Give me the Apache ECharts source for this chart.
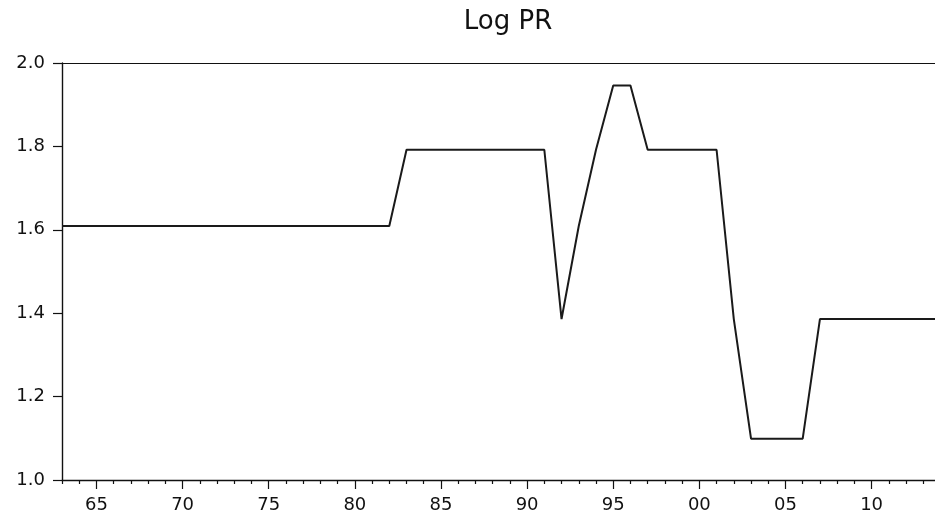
<!DOCTYPE html>
<html>
<head>
<meta charset="utf-8">
<script src="https://cdn.jsdelivr.net/npm/echarts@6/dist/echarts.min.js"></script>
<style>
html,body{margin:0;padding:0;background:#fff;}
#chart{width:935px;height:515px;}
</style>
</head>
<body>
<div id="chart"></div>
<script>
// Data: annual series, log of PR
const years = [1963,1964,1965,1966,1967,1968,1969,1970,1971,1972,1973,1974,1975,1976,1977,1978,1979,1980,1981,1982,
               1983,1984,1985,1986,1987,1988,1989,1990,1991,
               1992,1993,1994,1995,1996,
               1997,1998,1999,2000,2001,
               2002,2003,2004,2005,2006,
               2007,2008,2009,2010,2011,2012,2013,2014];
const logPR = [1.609,1.609,1.609,1.609,1.609,1.609,1.609,1.609,1.609,1.609,1.609,1.609,1.609,1.609,1.609,1.609,1.609,1.609,1.609,1.609,
               1.792,1.792,1.792,1.792,1.792,1.792,1.792,1.792,1.792,
               1.386,1.609,1.792,1.946,1.946,
               1.792,1.792,1.792,1.792,1.792,
               1.386,1.099,1.099,1.099,1.099,
               1.386,1.386,1.386,1.386,1.386,1.386,1.386,1.386];
const minorYears = [1963,1964,1966,1967,1968,1969,1971,1972,1973,1974,1976,1977,1978,1979,1981,1982,1983,1984,
                    1986,1987,1988,1989,1991,1992,1993,1994,1996,1997,1998,1999,2001,2002,2003,2004,
                    2006,2007,2008,2009,2011,2012,2013];
const majorYears = [1965,1970,1975,1980,1985,1990,1995,2000,2005,2010];
const yTicks = [1.0,1.2,1.4,1.6,1.8,2.0];
const titleText = 'Log PR';

const FONT = 'DejaVu Sans';
const X_MIN = 1963, X_MAX = 2013.68;
const chart = echarts.init(document.getElementById('chart'), null, {renderer:'canvas'});
const seriesData = years.map((y,i)=>[y, logPR[i]]);

chart.setOption({
  animation:false,
  backgroundColor:'#ffffff',
  title:{
    text:titleText,
    left:503, top:4, textAlign:'center',
    textStyle:{fontFamily:FONT,fontSize:26,fontWeight:'normal',color:'#111'}
  },
  grid:{ left:62, top:63, right:0, height:417 },
  xAxis:[
    {
      type:'value', min:X_MIN, max:X_MAX, position:'bottom',
      axisLine:{show:true,lineStyle:{color:'#111',width:1.4}},
      axisTick:{show:true,length:4,customValues:minorYears,lineStyle:{color:'#111',width:1.2}},
      axisLabel:{show:false},
      splitLine:{show:false}
    },
    {
      type:'value', min:X_MIN, max:X_MAX, position:'bottom', offset:0,
      axisLine:{show:false},
      axisTick:{show:true,length:9,customValues:majorYears,lineStyle:{color:'#111',width:1.2}},
      axisLabel:{
        show:true, customValues:majorYears, margin:16,
        fontFamily:FONT, fontSize:18, color:'#111',
        formatter:v=>String(Math.round(v)%100).padStart(2,'0')
      },
      splitLine:{show:false}
    },
    {
      type:'value', min:X_MIN, max:X_MAX, position:'top',
      axisLine:{show:true,lineStyle:{color:'#111',width:1.2}},
      axisTick:{show:false}, axisLabel:{show:false}, splitLine:{show:false}
    }
  ],
  yAxis:{
    type:'value', min:1.0, max:2.0, interval:0.2,
    axisLine:{show:true,lineStyle:{color:'#111',width:1.4}},
    axisTick:{show:true,length:9,customValues:yTicks,lineStyle:{color:'#111',width:1.2}},
    axisLabel:{
      show:true, margin:17, fontFamily:FONT, fontSize:18, color:'#111',
      customValues:yTicks,
      formatter:v=>Number(v).toFixed(1)
    },
    splitLine:{show:false}
  },
  series:[{
    type:'line', xAxisIndex:0, yAxisIndex:0,
    data:seriesData, showSymbol:false, symbol:'none',
    lineStyle:{color:'#1a1a1a',width:2},
    clip:true
  }]
});
</script>
</body>
</html>
